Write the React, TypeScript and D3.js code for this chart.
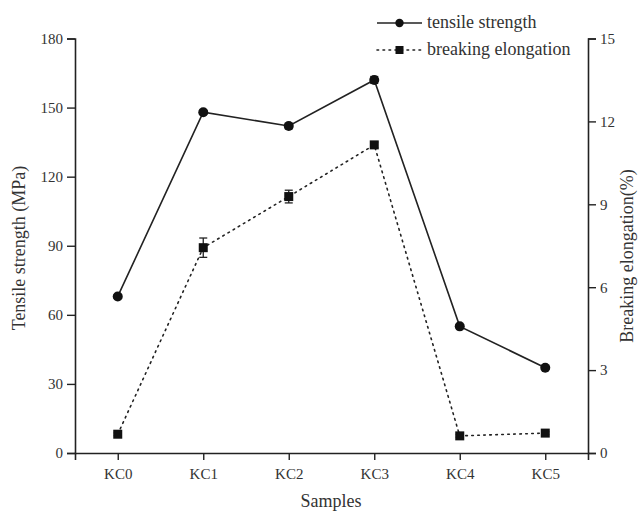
import React, { useEffect, useRef } from 'react'
import * as d3 from 'd3'

// data
const samples = ['KC0', 'KC1', 'KC2', 'KC3', 'KC4', 'KC5']
const tensile = [68, 148, 142, 162, 55, 37]
const tensileErr = [0.8, 0.8, 1.2, 1.5, 0.6, 0.6]
const elongation = [0.68, 7.43, 9.28, 11.15, 0.62, 0.72]
const elongationErr = [0.05, 0.35, 0.23, 0.1, 0.05, 0.05]
const leftTicks = [0, 30, 60, 90, 120, 150, 180]
const rightTicks = [0, 3, 6, 9, 12, 15]

const W = 638
const H = 511
const font = '"Liberation Serif", "Times New Roman", serif'
const ink = '#222'

export default function App() {
  const ref = useRef<SVGSVGElement>(null)

  useEffect(() => {
    const svg = d3.select(ref.current)
    svg.selectAll('*').remove()

    const left = 75, right = 588, top = 38.5, bottom = 453

    const x = d3.scalePoint<string>().domain(samples).range([left, right]).padding(0.5)
    const y = d3.scaleLinear().domain([0, 180]).range([bottom, top])
    const y2 = d3.scaleLinear().domain([0, 15]).range([bottom, top])

    const styleAxis = (g: any) => {
      g.select('.domain').attr('stroke', ink).attr('stroke-width', 1.6)
      g.selectAll('.tick line').attr('stroke', ink).attr('stroke-width', 1.4)
      g.selectAll('.tick text').attr('fill', '#333').attr('font-size', 15).attr('font-family', font)
    }

    svg.append('g')
      .attr('transform', `translate(0,${bottom})`)
      .call(d3.axisBottom(x).tickSizeOuter(0).tickSize(7).tickPadding(8))
      .call(styleAxis)

    svg.append('g')
      .attr('transform', `translate(${left},0)`)
      .call(d3.axisLeft(y).tickValues(leftTicks).tickSizeOuter(0).tickSize(8).tickPadding(4))
      .call(styleAxis)

    svg.append('g')
      .attr('transform', `translate(${right},0)`)
      .call(d3.axisRight(y2).tickValues(rightTicks).tickSizeOuter(0).tickSize(8).tickPadding(4))
      .call(styleAxis)

    // axis titles
    svg.append('text')
      .attr('transform', `translate(25,248) rotate(-90)`)
      .attr('text-anchor', 'middle')
      .attr('font-family', font).attr('font-size', 18).attr('fill', '#333')
      .text('Tensile strength (MPa)')
    svg.append('text')
      .attr('transform', `translate(633,256) rotate(-90)`)
      .attr('text-anchor', 'middle')
      .attr('font-family', font).attr('font-size', 18).attr('fill', '#333')
      .text('Breaking elongation(%)')
    svg.append('text')
      .attr('x', 331).attr('y', 507)
      .attr('text-anchor', 'middle')
      .attr('font-family', font).attr('font-size', 18).attr('fill', '#333')
      .text('Samples')

    const line1 = d3.line<number>().x((d, i) => x(samples[i])!).y(d => y(d))
    const line2 = d3.line<number>().x((d, i) => x(samples[i])!).y(d => y2(d))

    svg.append('path').datum(elongation).attr('d', line2)
      .attr('fill', 'none').attr('stroke', ink).attr('stroke-width', 1.6)
      .attr('stroke-dasharray', '1.6,4.4').attr('stroke-linecap', 'round')

    svg.append('path').datum(tensile).attr('d', line1)
      .attr('fill', 'none').attr('stroke', ink).attr('stroke-width', 1.6)

    // error bars
    const errBars = (vals: number[], errs: number[], sc: any) => {
      const g = svg.append('g').attr('stroke', ink).attr('stroke-width', 1.3)
      vals.forEach((v, i) => {
        const cx = x(samples[i])!
        const y0 = sc(v - errs[i]), y1 = sc(v + errs[i])
        g.append('line').attr('x1', cx).attr('x2', cx).attr('y1', y0).attr('y2', y1)
        g.append('line').attr('x1', cx - 4).attr('x2', cx + 4).attr('y1', y0).attr('y2', y0)
        g.append('line').attr('x1', cx - 4).attr('x2', cx + 4).attr('y1', y1).attr('y2', y1)
      })
    }
    errBars(elongation, elongationErr, y2)
    errBars(tensile, tensileErr, y)

    svg.append('g').selectAll('rect').data(elongation).enter().append('rect')
      .attr('x', (d, i) => x(samples[i])! - 4.5)
      .attr('y', d => y2(d) - 4.5)
      .attr('width', 9).attr('height', 9).attr('fill', '#111')

    svg.append('g').selectAll('circle').data(tensile).enter().append('circle')
      .attr('cx', (d, i) => x(samples[i])!)
      .attr('cy', d => y(d))
      .attr('r', 5).attr('fill', '#111')

    // legend
    const lg = svg.append('g')
    lg.append('line').attr('x1', 377).attr('x2', 422).attr('y1', 23).attr('y2', 23)
      .attr('stroke', ink).attr('stroke-width', 1.6)
    lg.append('circle').attr('cx', 399.5).attr('cy', 23).attr('r', 4.2).attr('fill', '#111')
    lg.append('text').attr('x', 427).attr('y', 28)
      .attr('font-family', font).attr('font-size', 18).attr('fill', '#333')
      .text('tensile strength')
    lg.append('line').attr('x1', 377).attr('x2', 422).attr('y1', 50).attr('y2', 50)
      .attr('stroke', ink).attr('stroke-width', 1.6)
      .attr('stroke-dasharray', '1.6,4.4').attr('stroke-linecap', 'round')
    lg.append('rect').attr('x', 395.5).attr('y', 46).attr('width', 8).attr('height', 8).attr('fill', '#111')
    lg.append('text').attr('x', 427).attr('y', 55)
      .attr('font-family', font).attr('font-size', 18).attr('fill', '#333')
      .text('breaking elongation')
  }, [])

  return (
    <div>
      <svg ref={ref} width={W} height={H} style={{ position: 'absolute', left: 0, top: 0, background: '#fff' }} />
    </div>
  )
}
